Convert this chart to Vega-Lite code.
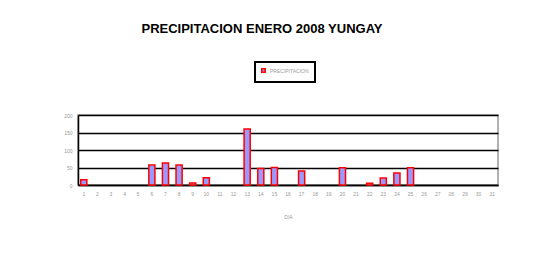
{
  "$schema": "https://vega.github.io/schema/vega-lite/v6.json",
  "width": 420,
  "height": 70,
  "autosize": {"type": "none"},
  "padding": {"left": 78, "top": 115, "right": 35, "bottom": 79},
  "background": "white",
  "title": {
    "text": "PRECIPITACION ENERO 2008 YUNGAY",
    "font": "Liberation Sans",
    "fontSize": 13,
    "fontWeight": "bold",
    "color": "black",
    "anchor": "middle",
    "offset": 25,
    "dx": -26
  },
  "data": {
    "values": [
      {"dia": 1, "pp": 15, "serie": "PRECIPITACION"},
      {"dia": 6, "pp": 57, "serie": "PRECIPITACION"},
      {"dia": 7, "pp": 63, "serie": "PRECIPITACION"},
      {"dia": 8, "pp": 57, "serie": "PRECIPITACION"},
      {"dia": 9, "pp": 6, "serie": "PRECIPITACION"},
      {"dia": 10, "pp": 21, "serie": "PRECIPITACION"},
      {"dia": 13, "pp": 160, "serie": "PRECIPITACION"},
      {"dia": 14, "pp": 47, "serie": "PRECIPITACION"},
      {"dia": 15, "pp": 50, "serie": "PRECIPITACION"},
      {"dia": 17, "pp": 40, "serie": "PRECIPITACION"},
      {"dia": 20, "pp": 49, "serie": "PRECIPITACION"},
      {"dia": 22, "pp": 5, "serie": "PRECIPITACION"},
      {"dia": 23, "pp": 20, "serie": "PRECIPITACION"},
      {"dia": 24, "pp": 34, "serie": "PRECIPITACION"},
      {"dia": 25, "pp": 49, "serie": "PRECIPITACION"}
    ]
  },
  "mark": {"type": "bar", "stroke": "#ff0000", "strokeWidth": 1.5},
  "encoding": {
    "x": {
      "field": "dia",
      "type": "ordinal",
      "title": "DIA",
      "scale": {
        "domain": [1,2,3,4,5,6,7,8,9,10,11,12,13,14,15,16,17,18,19,20,21,22,23,24,25,26,27,28,29,30,31],
        "paddingInner": 0.55,
        "paddingOuter": 0.2
      },
      "axis": {
        "labelAngle": 0,
        "labelFontSize": 5,
        "labelColor": "#999999",
        "labelPadding": 6,
        "ticks": false,
        "domainColor": "black",
        "domainWidth": 1.5,
        "titleFontSize": 5,
        "titleColor": "#999999",
        "titleFontWeight": "normal",
        "titlePadding": 18
      }
    },
    "y": {
      "field": "pp",
      "type": "quantitative",
      "title": null,
      "scale": {"domain": [0, 200]},
      "axis": {
        "values": [0, 50, 100, 150, 200],
        "labelFontSize": 5,
        "labelColor": "#999999",
        "labelPadding": 6,
        "ticks": false,
        "domainColor": "black",
        "domainWidth": 1.5,
        "grid": true,
        "gridColor": "black",
        "gridWidth": 1.5
      }
    },
    "fill": {
      "field": "serie",
      "type": "nominal",
      "scale": {"range": ["#9999ff"]},
      "legend": {
        "title": null,
        "orient": "none",
        "legendX": 177,
        "legendY": -53,
        "symbolType": "square",
        "symbolSize": 12,
        "symbolFillColor": "#ff0000",
        "symbolStrokeColor": "#ff0000",
        "labelFontSize": 5,
        "labelColor": "#999999",
        "padding": 6,
        "labelLimit": 60,
        "strokeColor": "black"
      }
    }
  },
  "config": {
    "font": "Liberation Sans",
    "view": {"stroke": "#999999", "strokeWidth": 1.5},
    "legend": {"strokeWidth": 2}
  }
}
